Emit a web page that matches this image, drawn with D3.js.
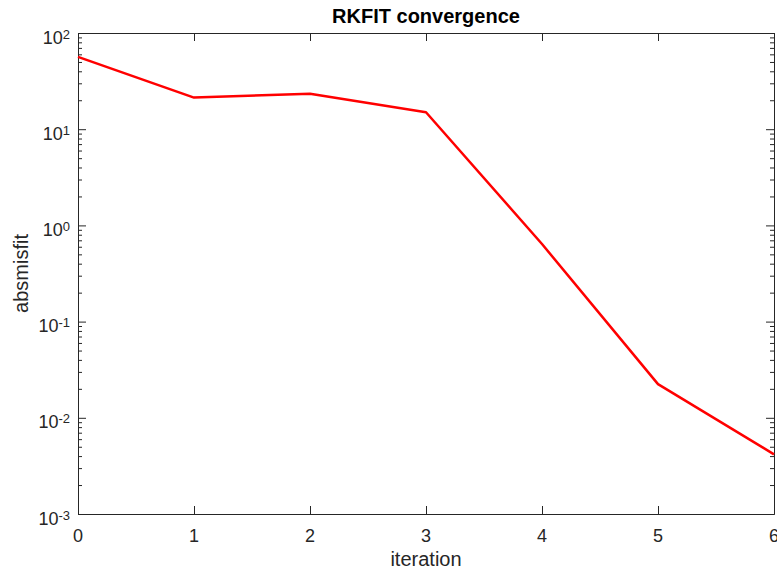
<!DOCTYPE html>
<meta charset="utf-8">
<style>
body { margin: 0; background: #fff; }
svg text { font-family: "Liberation Sans", Arial, sans-serif; fill: #262626; }
.axis path, .axis line { stroke: #262626; stroke-width: 1px; }
.lines { fill: none; stroke: #ff0000; stroke-width: 2.5px; stroke-linejoin: round; }
</style>
<svg width="777" height="570"></svg>
<script src="https://d3js.org/d3.v7.min.js"></script>
<script>

// data
var iterations = [0, 1, 2, 3, 4, 5, 6];
var absmisfit = [56.5, 21.3, 23.4, 15.0, 0.64, 0.0224, 0.00417];
var xTicks = [0, 1, 2, 3, 4, 5, 6];
var yExponents = [-3, -2, -1, 0, 1, 2];

var svg = d3.select("svg"),
    margin = {top: 33, right: 3, bottom: 56, left: 78},
    width = +svg.attr("width") - margin.left - margin.right,
    height = +svg.attr("height") - margin.top - margin.bottom,
    g = svg.append("g").attr("transform", "translate(" + margin.left + "," + margin.top + ")");

var x = d3.scaleLinear().domain([0, 6]).range([0, width]);
var y = d3.scaleLog().domain([1e-3, 1e2]).range([height, 0]);

var majorY = yExponents.map(function(e) { return Math.pow(10, e); });
var minorY = [];
yExponents.slice(0, -1).forEach(function(e) {
  for (var k = 2; k <= 9; k++) minorY.push(k * Math.pow(10, e));
});

// bottom + top
g.append("g").attr("class", "axis")
    .attr("transform", "translate(0," + height + ")")
    .call(d3.axisBottom(x).tickValues(xTicks).tickSize(-8).tickSizeOuter(0).tickFormat(""));
g.append("g").attr("class", "axis")
    .call(d3.axisTop(x).tickValues(xTicks).tickSize(-8).tickSizeOuter(0).tickFormat(""));

// left + right, major and minor
g.append("g").attr("class", "axis")
    .call(d3.axisLeft(y).tickValues(majorY).tickSize(-8).tickSizeOuter(0).tickFormat(""));
g.append("g").attr("class", "axis")
    .call(d3.axisLeft(y).tickValues(minorY).tickSize(-4).tickSizeOuter(0).tickFormat(""));
g.append("g").attr("class", "axis")
    .attr("transform", "translate(" + width + ",0)")
    .call(d3.axisRight(y).tickValues(majorY).tickSize(-8).tickSizeOuter(0).tickFormat(""));
g.append("g").attr("class", "axis")
    .attr("transform", "translate(" + width + ",0)")
    .call(d3.axisRight(y).tickValues(minorY).tickSize(-4).tickSizeOuter(0).tickFormat(""));

// x tick labels
g.selectAll(".xlab").data(xTicks).enter().append("text")
    .attr("x", function(d) { return x(d); })
    .attr("y", height + 28)
    .style("text-anchor", "middle")
    .style("font-size", "18px")
    .text(function(d) { return d; });

// y tick labels 10^n
var ylab = g.selectAll(".ylab").data(yExponents).enter().append("text")
    .attr("x", -8)
    .attr("y", function(d) { return y(Math.pow(10, d)) + 10.5; })
    .style("text-anchor", "end")
    .style("font-size", "18px");
ylab.append("tspan").text("10");
ylab.append("tspan")
    .attr("dy", -5)
    .style("font-size", "13px")
    .text(function(d) { return d; });

var line = d3.line()
    .x(function(d, i) { return x(iterations[i]); })
    .y(function(d) { return y(d); });

g.append("path")
    .datum(absmisfit)
    .attr("class", "lines")
    .attr("d", line);

// labels
svg.append("text")
    .attr("x", margin.left + width / 2)
    .attr("y", 23)
    .style("text-anchor", "middle")
    .style("font-size", "20px")
    .style("font-weight", "bold")
    .style("fill", "#000")
    .text("RKFIT convergence");

svg.append("text")
    .attr("x", margin.left + width / 2)
    .attr("y", 566)
    .style("text-anchor", "middle")
    .style("font-size", "20px")
    .text("iteration");

svg.append("text")
    .attr("transform", "translate(28," + (margin.top + height / 2) + ") rotate(-90)")
    .style("text-anchor", "middle")
    .style("font-size", "20px")
    .text("absmisfit");

</script>
